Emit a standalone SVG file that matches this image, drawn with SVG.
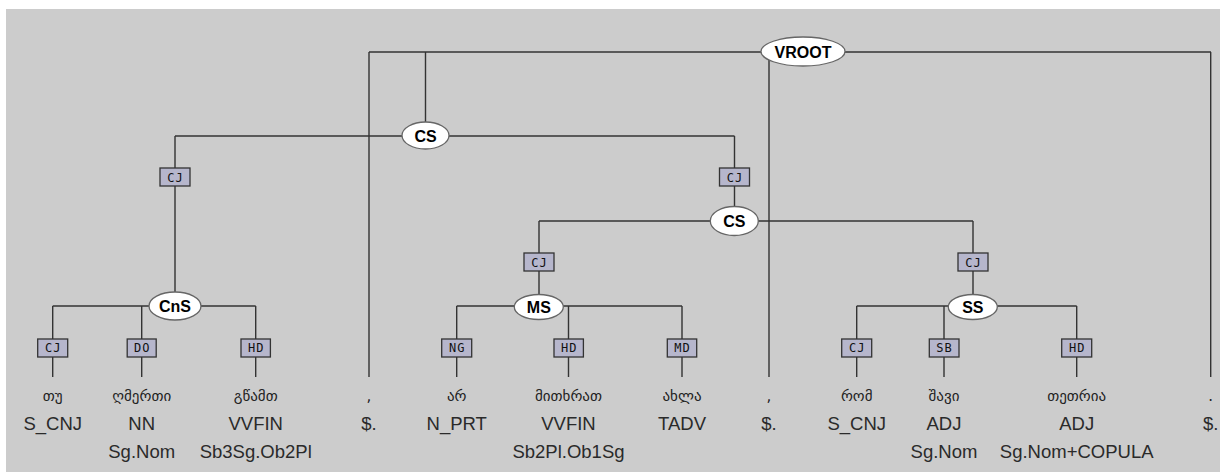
<svg xmlns="http://www.w3.org/2000/svg" width="1220" height="472" viewBox="0 0 1220 472">
<style>
.ln{stroke:#333;stroke-width:1.4;fill:none}
.nd{fill:#fff;stroke:#666;stroke-width:1.3}
.nt{font-family:"Liberation Sans",Arial,sans-serif;font-weight:bold;font-size:16px;fill:#000;text-anchor:middle}
.eb{fill:#b6b6cc;stroke:#333;stroke-width:1.3}
.et{font-family:"DejaVu Sans Mono","Liberation Mono",monospace;font-size:12px;letter-spacing:1px;fill:#111;text-anchor:middle}
.w{font-family:"DejaVu Sans","Noto Sans",sans-serif;font-size:15px;fill:#222;text-anchor:middle}
.t{font-family:"Liberation Sans",Arial,sans-serif;font-size:18.5px;fill:#2a2a2a;text-anchor:middle}
</style>
<rect x="0" y="0" width="1220" height="472" fill="#fff"/>
<rect x="6" y="9" width="1214" height="463" fill="#cccccc"/>
<g id="connectors">
<path class="ln" d="M369 52H1211M369 52V377M425.5 52V122M769 52V377M1210.7 52V377"/>
<path class="ln" d="M175 136H734.5M175 136V292M734.5 136V207"/>
<path class="ln" d="M539 221H973M539 221V296M973 221V296"/>
<path class="ln" d="M52.7 306H255.7M52.7 306V377M141.7 306V377M255.7 306V377"/>
<path class="ln" d="M456.7 306H682M456.7 306V377M568.5 306V377M682 306V377"/>
<path class="ln" d="M856.7 306H1076.7M856.7 306V377M944 306V377M1076.7 306V377"/>
</g>
<g id="edge-labels">
<g id="e1"><rect class="eb" x="160" y="168" width="30" height="18"/><text class="et" x="175.5" y="181.5">CJ</text></g>
<g id="e2"><rect class="eb" x="719.5" y="168" width="30" height="18"/><text class="et" x="735" y="181.5">CJ</text></g>
<g id="e3"><rect class="eb" x="524" y="253" width="30" height="18"/><text class="et" x="539.5" y="266.5">CJ</text></g>
<g id="e4"><rect class="eb" x="958" y="253" width="30" height="18"/><text class="et" x="973.5" y="266.5">CJ</text></g>
<g id="e5"><rect class="eb" x="37.7" y="339" width="30" height="18"/><text class="et" x="53.2" y="352">CJ</text></g>
<g id="e6"><rect class="eb" x="127.2" y="339" width="29" height="18"/><text class="et" x="142.2" y="352">DO</text></g>
<g id="e7"><rect class="eb" x="241" y="339" width="29.4" height="18"/><text class="et" x="256.2" y="352">HD</text></g>
<g id="e8"><rect class="eb" x="441.7" y="339" width="30" height="18"/><text class="et" x="457.2" y="352">NG</text></g>
<g id="e9"><rect class="eb" x="554" y="339" width="29.4" height="18"/><text class="et" x="569.2" y="352">HD</text></g>
<g id="e10"><rect class="eb" x="667.3" y="339" width="29.4" height="18"/><text class="et" x="682.5" y="352">MD</text></g>
<g id="e11"><rect class="eb" x="841.7" y="339" width="30" height="18"/><text class="et" x="857.2" y="352">CJ</text></g>
<g id="e12"><rect class="eb" x="929.3" y="339" width="29.7" height="18"/><text class="et" x="944.5" y="352">SB</text></g>
<g id="e13"><rect class="eb" x="1061.7" y="339" width="30" height="18"/><text class="et" x="1077.2" y="352">HD</text></g>
</g>
<g id="VROOT"><ellipse class="nd" cx="803" cy="51.5" rx="42" ry="14.5"/><text class="nt" x="803" y="57.5">VROOT</text></g>
<g id="CS1"><ellipse class="nd" cx="425.5" cy="135.5" rx="23.5" ry="13.5"/><text class="nt" x="425.5" y="141.5">CS</text></g>
<g id="CS2"><ellipse class="nd" cx="734.3" cy="221" rx="24" ry="14.5"/><text class="nt" x="734.3" y="227">CS</text></g>
<g id="CnS"><ellipse class="nd" cx="175" cy="306" rx="26" ry="14"/><text class="nt" x="175" y="312">CnS</text></g>
<g id="MS"><ellipse class="nd" cx="538.8" cy="307" rx="24.5" ry="12.5"/><text class="nt" x="538.8" y="313">MS</text></g>
<g id="SS"><ellipse class="nd" cx="972.8" cy="307" rx="24.5" ry="12.5"/><text class="nt" x="972.8" y="313">SS</text></g>
<g id="tok1"><text class="w" x="52.7" y="401">თუ</text><text class="t" x="52.7" y="430">S_CNJ</text></g>
<g id="tok2"><text class="w" x="141.7" y="401">ღმერთი</text><text class="t" x="141.7" y="430">NN</text><text class="t" x="141.7" y="458">Sg.Nom</text></g>
<g id="tok3"><text class="w" x="255.7" y="401">გწამთ</text><text class="t" x="255.7" y="430">VVFIN</text><text class="t" x="255.7" y="458">Sb3Sg.Ob2Pl</text></g>
<g id="tok4"><text class="w" x="369" y="401">,</text><text class="t" x="369" y="430">$.</text></g>
<g id="tok5"><text class="w" x="456.7" y="401">არ</text><text class="t" x="456.7" y="430">N_PRT</text></g>
<g id="tok6"><text class="w" x="568.5" y="401">მითხრათ</text><text class="t" x="568.5" y="430">VVFIN</text><text class="t" x="568.5" y="458">Sb2Pl.Ob1Sg</text></g>
<g id="tok7"><text class="w" x="682" y="401">ახლა</text><text class="t" x="682" y="430">TADV</text></g>
<g id="tok8"><text class="w" x="769" y="401">,</text><text class="t" x="769" y="430">$.</text></g>
<g id="tok9"><text class="w" x="856.7" y="401">რომ</text><text class="t" x="856.7" y="430">S_CNJ</text></g>
<g id="tok10"><text class="w" x="944" y="401">შავი</text><text class="t" x="944" y="430">ADJ</text><text class="t" x="944" y="458">Sg.Nom</text></g>
<g id="tok11"><text class="w" x="1076.7" y="401">თეთრია</text><text class="t" x="1076.7" y="430">ADJ</text><text class="t" x="1076.7" y="458">Sg.Nom+COPULA</text></g>
<g id="tok12"><text class="w" x="1210.7" y="401">.</text><text class="t" x="1210.7" y="430">$.</text></g>
</svg>
